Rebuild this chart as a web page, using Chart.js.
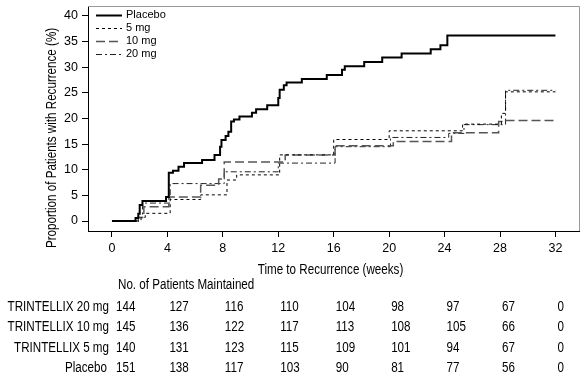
<!DOCTYPE html>
<html><head><meta charset="utf-8">
<script src="https://cdn.jsdelivr.net/npm/chart.js@4/dist/chart.umd.min.js"></script>
<style>html,body{margin:0;padding:0;background:#fff}#wrap{position:relative;width:587px;height:382px}</style>
</head><body><div id="wrap"><canvas id="c" width="587" height="382"></canvas></div>
<script>
// ---- data ----
const xTicks = [0, 4, 8, 12, 16, 20, 24, 28, 32];
const yTicks = [0, 5, 10, 15, 20, 25, 30, 35, 40];
const seriesNames = ['Placebo', '5 mg', '10 mg', '20 mg'];

const placeboWeeks = [0, 1.7, 1.9, 2.0, 2.2, 3.9, 4.1, 4.4, 4.8, 5.2, 6.5, 7.4, 7.8, 7.9, 8.2, 8.4, 8.6, 8.8, 9.2, 10.1, 10.4, 11.2, 12.0, 12.1, 12.4, 12.6, 13.7, 15.5, 16.6, 16.8, 18.2, 19.5, 20.9, 23.0, 23.7, 24.2, 32];
const placeboPct   = [0, 0.6, 1.4, 3.1, 3.9, 4.7, 9.4, 9.8, 10.6, 11.3, 11.9, 12.9, 14.5, 15.8, 16.6, 17.4, 19.4, 19.8, 20.4, 21.1, 21.8, 22.6, 24.0, 25.6, 26.5, 27.0, 27.7, 28.5, 29.5, 30.2, 31.0, 31.9, 32.7, 33.5, 34.3, 36.2, 36.2];

const mg5Weeks = [0, 2.1, 2.4, 4.2, 6.4, 8.3, 9.0, 12.1, 16.0, 20.0, 25.3, 28.1, 28.4, 32];
const mg5Pct   = [0, 0.7, 1.5, 4.2, 5.1, 8.0, 9.0, 12.9, 15.9, 17.6, 18.9, 21.0, 25.2, 25.2];

const mg10Weeks = [0, 1.9, 2.3, 4.1, 6.4, 7.7, 8.1, 12.5, 16.1, 20.3, 24.5, 27.9, 28.4, 32];
const mg10Pct   = [0, 0.7, 2.8, 4.7, 7.0, 8.2, 11.5, 12.9, 14.7, 15.5, 17.2, 19.4, 19.6, 19.6];

const mg20Weeks = [0, 1.8, 2.2, 4.2, 8.1, 12.0, 16.1, 20.1, 24.3, 25.4, 28.4, 32];
const mg20Pct   = [0, 0.7, 3.5, 7.3, 9.6, 11.3, 14.5, 16.3, 17.1, 18.8, 25.5, 25.5];

const tableTitle = 'No. of Patients Maintained';
const tableRowLabels = ['TRINTELLIX 20 mg', 'TRINTELLIX 10 mg', 'TRINTELLIX 5 mg', 'Placebo'];
const atRisk20 = [144, 127, 116, 110, 104, 98, 97, 67, 0];
const atRisk10 = [145, 136, 122, 117, 113, 108, 105, 66, 0];
const atRisk5  = [140, 131, 123, 115, 109, 101, 94, 67, 0];
const atRiskPl = [151, 138, 117, 103, 90, 81, 77, 56, 0];

const xTitle = 'Time to Recurrence (weeks)';
const yTitle = 'Proportion of Patients with Recurrence (%)';

// ---- styling ----
const REG = '"Liberation Sans", Arial, Helvetica, sans-serif';
const TXT_SIZE = 14;      // tall, condensed look of the original lettering
const TXT_SX = 0.83;      // horizontal condensing factor

const pts = (w, v) => w.map((x, i) => ({ x: x, y: v[i] }));

const datasets = [
  { label: seriesNames[0], data: pts(placeboWeeks, placeboPct), borderColor: '#000', borderWidth: 2, borderDash: [] },
  { label: seriesNames[1], data: pts(mg5Weeks, mg5Pct), borderColor: '#000', borderWidth: 1, borderDash: [3, 3] },
  { label: seriesNames[2], data: pts(mg10Weeks, mg10Pct), borderColor: '#555', borderWidth: 1.5, borderDash: [9, 4] },
  { label: seriesNames[3], data: pts(mg20Weeks, mg20Pct), borderColor: '#222', borderWidth: 1, borderDash: [6, 3, 2, 3] }
].map(d => Object.assign(d, { stepped: 'before', pointRadius: 0, fill: false, tension: 0 }));

const tableRows = [atRisk20, atRisk10, atRisk5, atRiskPl];

function condText(ctx, s, x, y, align, rot) {
  ctx.save();
  ctx.translate(x, y);
  if (rot) ctx.rotate(rot);
  ctx.scale(TXT_SX, 1);
  ctx.font = TXT_SIZE + 'px ' + REG;
  ctx.textAlign = align; ctx.textBaseline = 'middle'; ctx.fillStyle = '#000';
  ctx.fillText(s, 0, 0);
  ctx.restore();
}

const decor = {
  id: 'decor',
  afterDraw(chart) {
    const ctx = chart.ctx, a = chart.chartArea, xs = chart.scales.x;
    ctx.save();
    // top / right frame
    ctx.strokeStyle = '#999'; ctx.lineWidth = 1; ctx.setLineDash([]);
    ctx.beginPath();
    ctx.moveTo(a.left, a.top + 0.5); ctx.lineTo(a.right + 0.5, a.top + 0.5); ctx.lineTo(a.right + 0.5, a.bottom);
    ctx.stroke();
    // legend
    chart.data.datasets.forEach((d, i) => {
      const y = 15 + i * 13.1;
      ctx.strokeStyle = d.borderColor; ctx.lineWidth = d.borderWidth; ctx.setLineDash(d.borderDash || []);
      ctx.beginPath(); ctx.moveTo(96, Math.round(y) + 0.5); ctx.lineTo(122, Math.round(y) + 0.5); ctx.stroke();
      ctx.setLineDash([]);
      ctx.fillStyle = '#000'; ctx.font = '11px ' + REG; ctx.textAlign = 'left'; ctx.textBaseline = 'middle';
      ctx.fillText(d.label, 126, y);
    });
    ctx.restore();
    // axis titles
    condText(ctx, xTitle, (a.left + a.right) / 2 - 3, 270, 'center');
    condText(ctx, yTitle, 52, 138, 'center', -Math.PI / 2);
    // at-risk table
    condText(ctx, tableTitle, 118, 285.5, 'left');
    const rowY = [307, 327.5, 348, 368.5];
    tableRows.forEach((row, r) => {
      condText(ctx, tableRowLabels[r], r === 3 ? 107 : 109, rowY[r], 'right');
      row.forEach((v, k) => {
        condText(ctx, String(v), xs.getPixelForValue(xTicks[k]) + (k === 0 ? 4 : 2), rowY[r], 'left');
      });
    });
  }
};

new Chart(document.getElementById('c'), {
  type: 'line',
  data: { datasets },
  options: {
    responsive: false, animation: false,
    layout: { padding: { top: 6, right: 8, left: 0, bottom: 0 } },
    plugins: { legend: { display: false }, tooltip: { enabled: false } },
    scales: {
      x: {
        type: 'linear', min: -1.73, max: 33.7,
        afterBuildTicks: s => { s.ticks = xTicks.map(v => ({ value: v })); },
        afterFit: s => { s.height = 151; s.paddingLeft = 0; s.paddingRight = 0; },
        ticks: { color: '#000', font: { family: REG, size: 12.5 }, padding: 4, maxRotation: 0, autoSkip: false },
        grid: { drawOnChartArea: false, drawTicks: true, tickLength: 6, color: '#000' },
        border: { display: true, color: '#000', width: 1 }
      },
      y: {
        type: 'linear', min: -1.95, max: 41.95,
        afterBuildTicks: s => { s.ticks = yTicks.map(v => ({ value: v })); },
        afterFit: s => { s.width = 88; s.paddingTop = 0; s.paddingBottom = 0; },
        ticks: { color: '#000', font: { family: REG, size: 12.5 }, padding: 4, autoSkip: false },
        grid: { drawOnChartArea: false, drawTicks: true, tickLength: 6, color: '#000' },
        border: { display: true, color: '#000', width: 1 }
      }
    }
  },
  plugins: [decor]
});
</script></body></html>
